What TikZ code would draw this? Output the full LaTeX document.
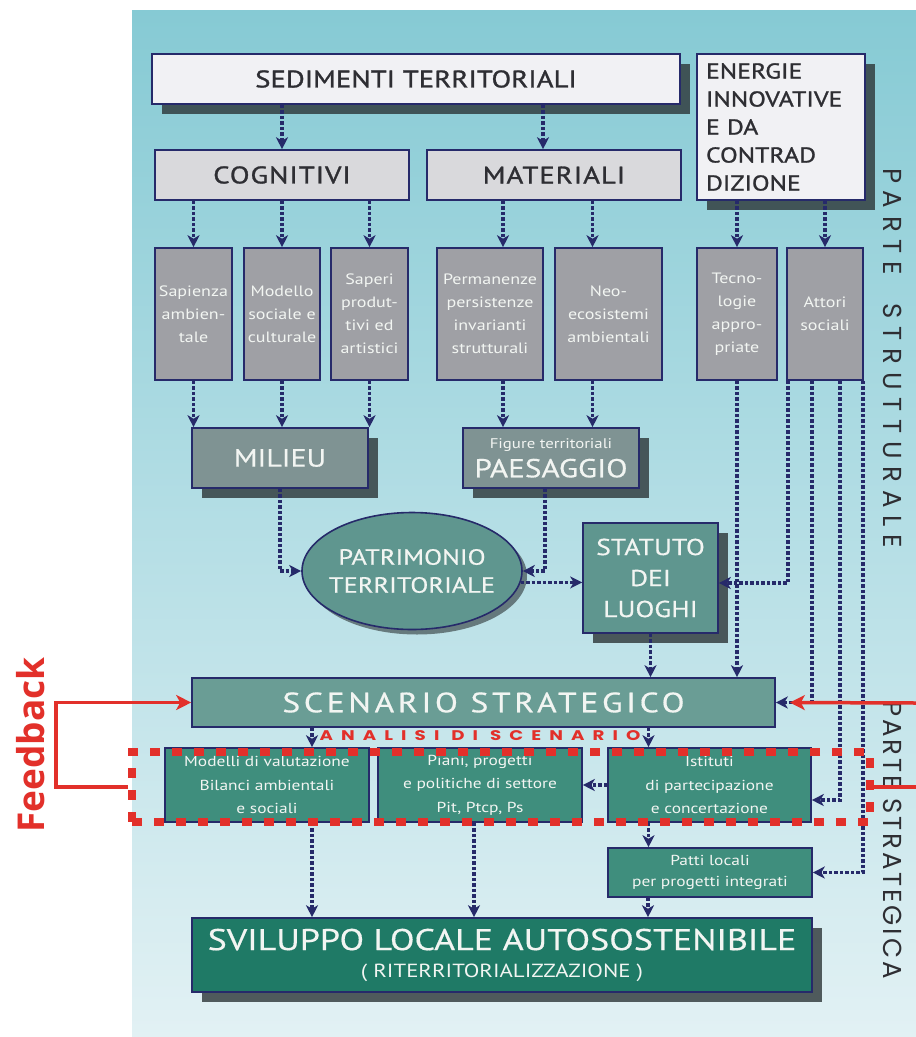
\documentclass[tikz,border=0pt]{standalone}
\usepackage{fontspec}
\setmainfont{PT Sans}[FakeStretch=1.2]
\newfontfamily\titlefont{PT Sans}[FakeStretch=1.2, FakeBold=1.2]
\newfontfamily\whitetitle{PT Sans}[FakeStretch=1.2, FakeBold=0.5]
\newfontfamily\geofont{Poppins}
\newfontfamily\widefont{Poppins}[FakeStretch=1.3]
\newfontfamily\fbfont{Open Sans}
\usetikzlibrary{arrows.meta,shapes.geometric,shadows,calc}
\newcommand\fsz[2]{\fontsize{#1}{#2}\selectfont}
\definecolor{navy}{HTML}{262A6A}
\definecolor{bgtop}{HTML}{86CAD4}
\definecolor{bgmid}{HTML}{B4DEE5}
\definecolor{bgbot}{HTML}{E2F1F4}
\definecolor{boxwhite}{HTML}{F1F1F4}
\definecolor{boxlight}{HTML}{D9D9DC}
\definecolor{boxgray}{HTML}{9FA0A5}
\definecolor{boxslate}{HTML}{7F9393}
\definecolor{boxteal}{HTML}{5F968F}
\definecolor{boxscen}{HTML}{6A9D95}
\definecolor{boxgreen}{HTML}{3F8E7D}
\definecolor{boxdeep}{HTML}{1F7A66}
\definecolor{shadowc}{HTML}{2C3537}
\definecolor{fbred}{HTML}{E2302A}
\definecolor{darktext}{HTML}{2E2E33}
\definecolor{lighttext}{HTML}{F2F5F2}
\tikzset{
  bx/.style={draw=navy, line width=1.6pt, inner sep=0pt, align=center},
  shd/.style={drop shadow={shadow xshift=10pt, shadow yshift=-10pt, fill=shadowc, opacity=0.8}},
  smallbox/.style={bx, fill=boxgray, minimum height=132pt, text=lighttext, font=\fsz{15}{23}},
  lowbox/.style={bx, fill=boxgreen, minimum width=204pt, minimum height=74pt, text=lighttext, font=\fsz{14.5}{23.5}},
  dl/.style={draw=navy, line width=3.5pt, dash pattern=on 3.5pt off 2pt, -{Stealth[length=12pt,width=12pt,inset=3.5pt]}},
  fbl/.style={draw=fbred, line width=3.5pt},
  fbtip/.style={-{Stealth[length=15pt,width=15pt,inset=4pt]}},
  sidetext/.style={rotate=-90, text=darktext, font=\geofont\fsz{26}{28}}
}
\begin{document}
\begin{tikzpicture}[x=1pt,y=-1pt]
\useasboundingbox (0,0) rectangle (916,1037);
\fill[white] (0,0) rectangle (916,1037);
\shade[top color=bgtop, bottom color=bgbot, middle color=bgmid] (132,10) rectangle (916,1037);

% top row
\node[bx, shd, fill=boxwhite, minimum width=528pt, minimum height=50pt, text=darktext, font=\titlefont\fsz{24}{28}] (sed) at (416,79) {SEDIMENTI TERRITORIALI};
\node[bx, shd, fill=boxwhite, minimum width=168pt, minimum height=146pt, text=darktext, font=\titlefont\fsz{21.5}{28}, align=left, text width=150pt] (ene) at (781,127) {ENERGIE\\INNOVATIVE\\E DA\\CONTRAD\\DIZIONE};

\node[bx, fill=boxlight, minimum width=254pt, minimum height=50pt, text=darktext, font=\titlefont\fsz{24}{28}] (cog) at (282,175) {\addfontfeature{LetterSpace=4}COGNITIVI};
\node[bx, fill=boxlight, minimum width=254pt, minimum height=50pt, text=darktext, font=\titlefont\fsz{24}{28}] (mat) at (554,175) {\addfontfeature{LetterSpace=4}MATERIALI};

% small boxes
\node[smallbox, minimum width=77pt] (sap) at (193.5,314) {Sapienza\\ambien-\\tale};
\node[smallbox, minimum width=76pt] (mod) at (282,314) {Modello\\sociale e\\culturale};
\node[smallbox, minimum width=77pt] (sape) at (369.5,314) {Saperi\\produt-\\tivi ed\\artistici};
\node[smallbox, minimum width=106pt] (perm) at (490,314) {Permanenze\\persistenze\\invarianti\\strutturali};
\node[smallbox, minimum width=107pt] (neo) at (608.5,314) {Neo-\\ecosistemi\\ambientali};
\node[smallbox, minimum width=80pt] (tec) at (737,314) {Tecno-\\logie\\appro-\\priate};
\node[smallbox, minimum width=76pt] (att) at (825,314) {Attori\\sociali};

% milieu / paesaggio
\node[bx, shd, fill=boxslate, minimum width=176pt, minimum height=60pt, text=lighttext, font=\whitetitle\fsz{25}{28}] (mil) at (280,458) {MILIEU};
\node[bx, shd, fill=boxslate, minimum width=176pt, minimum height=60pt, text=lighttext, font=\whitetitle\fsz{26}{29}] (pae) at (551,458) {{\normalfont\fsz{14}{16}Figure territoriali}\\PAESAGGIO};

% patrimonio / statuto
\node[bx, ellipse, inner xsep=-10pt, drop shadow={shadow xshift=5pt, shadow yshift=-5pt, fill=shadowc, opacity=0.6}, fill=boxteal, minimum width=220pt, minimum height=117pt, text=lighttext, font=\whitetitle\fsz{22}{28}] (pat) at (412,571) {PATRIMONIO\\TERRITORIALE};
\node[bx, shd, fill=boxteal, minimum width=135pt, minimum height=110pt, text=lighttext, font=\whitetitle\fsz{23}{31}] (sta) at (650.5,578) {STATUTO\\DEI\\LUOGHI};

% scenario
\node[bx, fill=boxscen, minimum width=583pt, minimum height=49pt, text=lighttext, font=\whitetitle\fsz{28}{30}] (sce) at (483.5,702.5) {\addfontfeature{LetterSpace=13}SCENARIO STRATEGICO};
\node[text=fbred, font=\widefont\bfseries\fsz{14}{16}, inner sep=0pt] (ana) at (480,736) {\addfontfeature{LetterSpace=58}ANALISI DI SCENARIO};

% lower boxes
\node[lowbox] (modv) at (267,785) {Modelli di valutazione\\Bilanci ambientali\\e sociali};
\node[lowbox] (pia) at (480,785) {Piani, progetti\\e politiche di settore\\Pit, Ptcp, Ps};
\node[lowbox, minimum width=203pt] (ist) at (709.5,785) {Istituti\\di partecipazione\\e concertazione};
\node[bx, fill=boxgreen, minimum width=204pt, minimum height=49pt, text=lighttext, font=\fsz{14.5}{21}] (pat2) at (710,872.5) {Patti locali\\per progetti integrati};
\node[bx, shd, fill=boxdeep, minimum width=620pt, minimum height=74pt, text=lighttext, font=\whitetitle\fsz{30}{27}] (svi) at (502,955) {SVILUPPO LOCALE AUTOSOSTENIBILE\\{\normalfont\fsz{19}{18}( RITERRITORIALIZZAZIONE )}};

% side texts
\node[sidetext] (ps1) at (893,358) {\addfontfeature{LetterSpace=30}PARTE\hspace{14pt} STRUTTURALE};
\node[sidetext] (ps2) at (893,840) {\addfontfeature{LetterSpace=11}PARTE STRATEGICA};
\node[rotate=90, text=fbred, font=\fbfont\bfseries\fsz{37}{40}] (fbt) at (31,745) {Feedback};

% dotted connectors
\draw[dl] (sed.south -| cog.north) -- (cog.north);
\draw[dl] ([xshift=-11pt]mat.north |- sed.south) -- ([xshift=-11pt]mat.north);
\draw[dl] (cog.south -| sap.north) -- (sap.north);
\draw[dl] (cog.south -| mod.north) -- (mod.north);
\draw[dl] (cog.south -| sape.north) -- (sape.north);
\draw[dl] ([xshift=13pt]perm.north |- mat.south) -- ([xshift=13pt]perm.north);
\draw[dl] ([xshift=-16pt]neo.north |- mat.south) -- ([xshift=-16pt]neo.north);
\draw[dl] (ene.south -| tec.north) -- (tec.north);
\draw[dl] (ene.south -| att.north) -- (att.north);
\draw[dl] (sap.south) -- (sap.south |- mil.north);
\draw[dl] (mod.south) -- (mod.south |- mil.north);
\draw[dl] (sape.south) -- (sape.south |- mil.north);
\draw[dl] ([xshift=13pt]perm.south) -- ([xshift=13pt]perm.south |- pae.north);
\draw[dl] ([xshift=-16pt]neo.south) -- ([xshift=-16pt]neo.south |- pae.north);
\draw[dl] (mil.south) |- (pat.west);
\draw[dl] ([xshift=-6pt]pae.south) |- (pat.east);
\draw[dl] (pat.-6) -- (pat.-6 -| sta.west);
\draw[dl] ([xshift=-37pt]att.south) |- ([yshift=-5pt]sta.east);
\draw[dl] (tec.south) -- (tec.south |- sce.north);
\draw[dl] (sta.south) -- (sta.south |- sce.north);
\draw[dl] ([xshift=-13pt]att.south) |- (sce.east);
\draw[dl] ([xshift=15pt]att.south) |- ([yshift=-15pt]ist.east);
\draw[dl] ([xshift=38pt]att.south) |- (pat2.east);
\draw[dl] ([xshift=45pt]modv.north |- sce.south) -- ([xshift=45pt]modv.north);
\draw[dl] ([xshift=-61pt]ist.north |- sce.south) -- ([xshift=-61pt]ist.north);
\draw[dl] (ist.west) -- (pia.east);
\draw[dl] ([xshift=-61pt]ist.south) -- ([xshift=-61pt]ist.south |- pat2.north);
\draw[dl] ([xshift=-62pt]pat2.south) -- ([xshift=-62pt]pat2.south |- svi.north);
\draw[dl] ([xshift=45pt]modv.south) -- ([xshift=45pt]modv.south |- svi.north);
\draw[dl] ([xshift=-6pt]pia.south) -- ([xshift=-6pt]pia.south |- svi.north);

% red group and feedback
\node[draw=fbred, line width=8pt, dash pattern=on 10pt off 12pt, minimum width=738pt, minimum height=70pt, inner sep=0pt] (grp) at (501,787) {};
\coordinate (rin) at (916,703);
\coordinate (rout) at (916,787);
\draw[fbl, fbtip] (rin) -- ([xshift=14pt]sce.east);
\draw[fbl] (grp.east) -- (rout);
\draw[fbl, fbtip] (grp.west) -- ++(-72,0) |- (sce.west);
\end{tikzpicture}
\end{document}
